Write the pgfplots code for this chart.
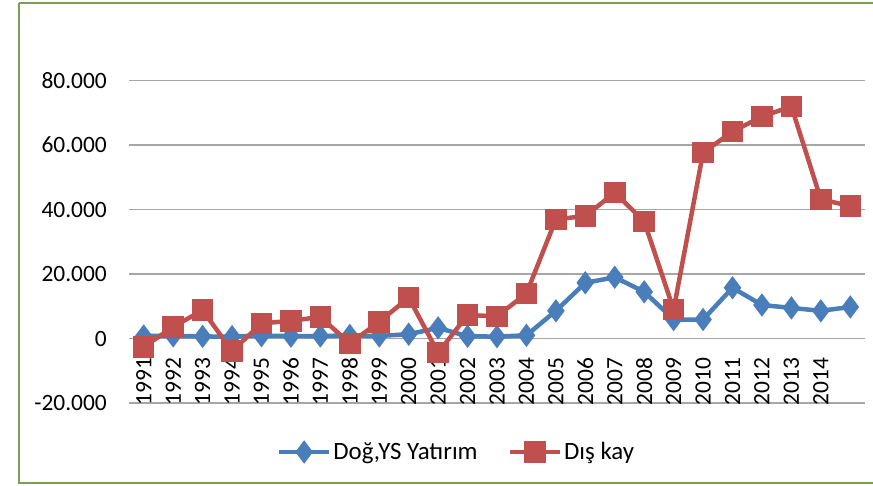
\documentclass[border=0pt]{standalone}
\usepackage{fontspec}
\setmainfont{Carlito}
\usepackage{pgfplots}
\pgfplotsset{compat=1.18}
\definecolor{bluS}{RGB}{74,126,187}
\definecolor{redS}{RGB}{192,80,77}
\definecolor{grd}{RGB}{166,166,166}
\definecolor{brd}{RGB}{119,160,84}
\begin{document}
\begin{tikzpicture}
\useasboundingbox (0bp,0bp) rectangle (873bp,-486bp);
\draw[brd, line width=1.5bp] (19bp,-3bp) -- (880bp,-3bp) (19bp,-3bp) -- (19bp,-483bp) -- (880bp,-483bp);
\begin{axis}[
  at={(129bp,-403bp)}, anchor=south west,
  scale only axis, width=736bp, height=322.3bp,
  xmin=-0.5, xmax=24.5, ymin=-20000, ymax=80000,
  axis x line=middle, axis y line=left,
  axis line style={draw=none},
  hide obscured x ticks=false, hide obscured y ticks=false,
  xtick={0,...,23},
  xticklabels={1991,1992,1993,1994,1995,1996,1997,1998,1999,2000,2001,2002,2003,2004,2005,2006,2007,2008,2009,2010,2011,2012,2013,2014},
  ytick={-20000,0,20000,40000,60000,80000},
  major tick length=0pt,
  ymajorgrids, grid style={grd, line width=1.5bp},
  /pgf/number format/.cd, fixed, 1000 sep={.}, assume math mode=true,
  /pgfplots/.cd,
  scaled y ticks=false,
  tick label style={font=\fontsize{23.5}{27}\selectfont, inner sep=0pt},
  yticklabel style={anchor=east, xshift=-22bp},
  xticklabel style={rotate=90, anchor=east, outer xsep=19bp, outer ysep=0pt},
  legend columns=2,
  legend style={at={(0.445,-0.152)}, anchor=center, draw=none, fill=none,
    font=\fontsize{25}{29}\selectfont, inner sep=0pt,
    /tikz/every even column/.append style={column sep=28bp}},
  legend cell align=left,
  legend image code/.code={\draw[mark repeat=2,mark phase=2,#1] plot coordinates {(0bp,0bp) (25bp,0bp) (50bp,0bp)};},
  clip=false,
]
\addplot[bluS, line width=4.5bp, mark=diamond*, mark size=8bp, mark options={solid}] coordinates {
(0,800) (1,850) (2,650) (3,600) (4,900) (5,750) (6,800) (7,950) (8,800) (9,1350)
(10,3300) (11,700) (12,600) (13,1000) (14,8600) (15,17300) (16,19000) (17,14500)
(18,5900) (19,5900) (20,15750) (21,10400) (22,9500) (23,8600) (24,9800)};
\addlegendentry{Doğ,YS Yatırım}
\addplot[redS, line width=4.5bp, mark=square*, mark size=8.5bp, mark options={solid}] coordinates {
(0,-2600) (1,3600) (2,8800) (3,-3900) (4,4700) (5,5500) (6,6700) (7,-1500) (8,5200) (9,12700)
(10,-4400) (11,7300) (12,6900) (13,14000) (14,37000) (15,38000) (16,45300) (17,36300)
(18,9000) (19,57700) (20,64200) (21,68900) (22,72000) (23,43200) (24,41100)};
\addlegendentry{Dış kay}
\end{axis}
\end{tikzpicture}
\end{document}
